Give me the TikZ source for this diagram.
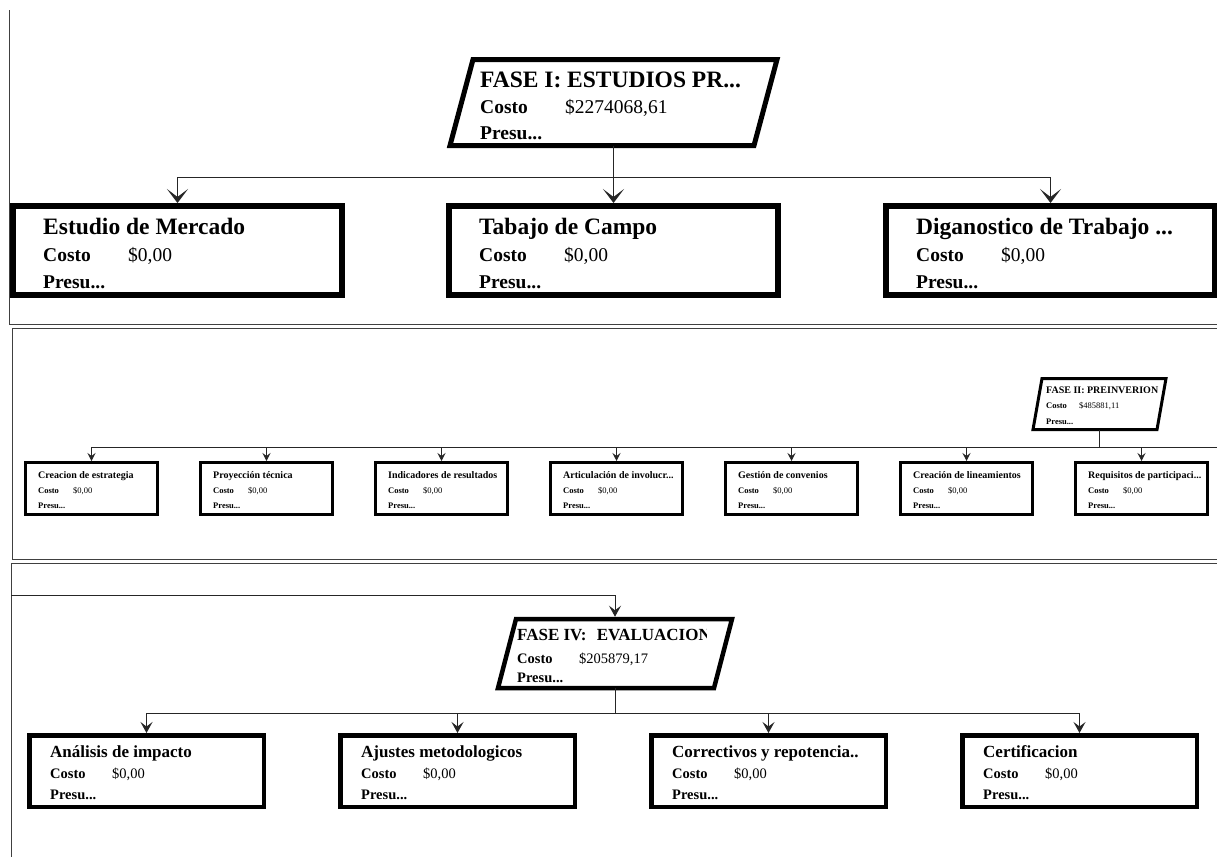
\documentclass[tikz,border=0pt]{standalone}
\usepackage{fontspec}
\setmainfont{Liberation Serif}
\usetikzlibrary{arrows.meta,calc}
\newcommand\ttlT{\fontsize{23.5}{28}\selectfont\bfseries}
\newcommand\cstT{\fontsize{19.5}{23}\selectfont}
\newcommand\ttlM{\fontsize{10}{12}\selectfont\bfseries}
\newcommand\cstM{\fontsize{8.5}{10}\selectfont}
\newcommand\ttlB{\fontsize{17}{20}\selectfont\bfseries}
\newcommand\cstB{\fontsize{14.5}{17}\selectfont}
\newcommand\TopBox[4]{%
  \node[topbox] (#1) at (#2,250.5) {};
  \node[txt,font=\ttlT] (#1t) at ($(#1.north west)+(33,31)$) {#3};
  \node[txt,font=\cstT\bfseries] (#1c) at ($(#1.north west)+(33,58)$) {Costo};
  \node[txt,font=\cstT] (#1v) at ($(#1.north west)+(118,58)$) {#4};
  \node[txt,font=\cstT\bfseries] (#1p) at ($(#1.north west)+(33,85)$) {Presu...};
}
\newcommand\MidBox[4]{%
  \node[midbox] (#1) at (#2,488.5) {};
  \node[txt,font=\ttlM] (#1t) at ($(#1.north west)+(14,17)$) {#3};
  \node[txt,font=\cstM\bfseries] (#1c) at ($(#1.north west)+(14,32)$) {Costo};
  \node[txt,font=\cstM] (#1v) at ($(#1.north west)+(49,32)$) {#4};
  \node[txt,font=\cstM\bfseries] (#1p) at ($(#1.north west)+(14,47)$) {Presu...};
}
\newcommand\BotBox[4]{%
  \node[botbox] (#1) at (#2,771) {};
  \node[txt,font=\ttlB] (#1t) at ($(#1.north west)+(23,24)$) {#3};
  \node[txt,font=\cstB\bfseries] (#1c) at ($(#1.north west)+(23,45)$) {Costo};
  \node[txt,font=\cstB] (#1v) at ($(#1.north west)+(85,45)$) {#4};
  \node[txt,font=\cstB\bfseries] (#1p) at ($(#1.north west)+(23,66)$) {Presu...};
}
\begin{document}
\begin{tikzpicture}[x=1pt,y=-1pt,
  frame/.style={draw=black!75, line width=1pt},
  conn/.style={draw=black!85, line width=1pt},
  topbox/.style={draw, line width=6pt, minimum width=329pt, minimum height=89pt, inner sep=0pt},
  midbox/.style={draw, line width=3pt, minimum width=132pt, minimum height=52pt, inner sep=0pt},
  botbox/.style={draw, line width=4.5pt, minimum width=234.5pt, minimum height=71.5pt, inner sep=0pt},
  anchorbox/.style={inner sep=0pt, outer sep=0pt},
  txt/.style={anchor=base west, inner sep=0pt},
  arrT/.style={conn, -{Stealth[length=14pt,width=21pt,inset=8pt]}},
  arrM/.style={conn, -{Stealth[length=8pt,width=8pt,inset=3pt]}},
  arrB/.style={conn, -{Stealth[length=11pt,width=12pt,inset=4.5pt]}},
]
\useasboundingbox[fill=white] (0,0) rectangle (1217,857);

% ---------- panel frames ----------
\draw[frame] (9,10) -- (9,324.5) -- (1217,324.5);
\draw[frame] (1217,328) -- (12,328) -- (12,559) -- (1217,559);
\draw[frame] (1217,563) -- (11,563) -- (11,857);

% ---------- panel 1 ----------
\node[anchorbox, minimum width=304pt, minimum height=86pt] (f1) at (613.5,102.5) {};
\draw[line width=5pt] ([xshift=11.5pt]f1.north west) -- ([xshift=11.5pt]f1.north east)
  -- ([xshift=-11.5pt]f1.south east) -- ([xshift=-11.5pt]f1.south west) -- cycle;
\node[txt,font=\ttlT] (f1t) at (480,87) {FASE I: ESTUDIOS PR...};
\node[txt,font=\cstT\bfseries] (f1c) at (480,113) {Costo};
\node[txt,font=\cstT] (f1v) at (565,113) {\$2274068,61};
\node[txt,font=\cstT\bfseries] (f1p) at (480,139) {Presu...};

\TopBox{b1}{177.5}{Estudio de Mercado}{\$0,00}
\TopBox{b2}{613.5}{Tabajo de Campo}{\$0,00}
\TopBox{b3}{1050.5}{Diganostico de Trabajo ...}{\$0,00}

\coordinate (j1) at (613.5,177.5);
\draw[arrT] (f1.south) -- (j1) -| (b1.north);
\draw[arrT] (f1.south) -- (b2.north);
\draw[arrT] (f1.south) -- (j1) -| (b3.north);

% ---------- panel 2 ----------
\node[anchorbox, minimum width=124pt, minimum height=51pt] (f2) at (1099.5,404) {};
\draw[line width=3pt] ([xshift=4.5pt]f2.north west) -- ([xshift=4.5pt]f2.north east)
  -- ([xshift=-4.5pt]f2.south east) -- ([xshift=-4.5pt]f2.south west) -- cycle;
\node[txt,font=\ttlM] (f2t) at (1046,393) {FASE II: PREINVERION};
\node[txt,font=\cstM\bfseries] (f2c) at (1046,408) {Costo};
\node[txt,font=\cstM] (f2v) at (1079,408) {\$485881,11};
\node[txt,font=\cstM\bfseries] (f2p) at (1046,424) {Presu...};

\MidBox{m1}{91.5}{Creacion de estrategia}{\$0,00}
\MidBox{m2}{266.5}{Proyección técnica}{\$0,00}
\MidBox{m3}{441.5}{Indicadores de resultados}{\$0,00}
\MidBox{m4}{616.5}{Articulación de involucr...}{\$0,00}
\MidBox{m5}{791.5}{Gestión de convenios}{\$0,00}
\MidBox{m6}{966.5}{Creación de lineamientos}{\$0,00}
\MidBox{m7}{1141.5}{Requisitos de participaci...}{\$0,00}

\coordinate (h2) at (1217,447);
\draw[conn] (f2.south) -- (f2.south |- h2);
\draw[conn] (m1.north |- h2) -- (h2);
\foreach \i in {1,...,7} {\draw[arrM] (m\i.north |- h2) -- (m\i.north);}

% ---------- panel 3 ----------
\node[anchorbox, minimum width=216pt, minimum height=69pt] (f4) at (615,653.5) {};
\begin{scope}
  \clip (500,615) rectangle (706,645);
  \node[txt,font=\ttlB] (f4t) at (517,640) {FASE IV:\hspace{0.6em}EVALUACION};
\end{scope}
\node[txt,font=\cstB\bfseries] (f4c) at (517,663) {Costo};
\node[txt,font=\cstB] (f4v) at (579,663) {\$205879,17};
\node[txt,font=\cstB\bfseries] (f4p) at (517,682) {Presu...};
\draw[line width=4.5pt] ([xshift=9pt]f4.north west) -- ([xshift=9pt]f4.north east)
  -- ([xshift=-9pt]f4.south east) -- ([xshift=-9pt]f4.south west) -- cycle;

\BotBox{c1}{146.5}{Análisis de impacto}{\$0,00}
\BotBox{c2}{457.5}{Ajustes metodologicos}{\$0,00}
\BotBox{c3}{768.5}{Correctivos y repotencia..}{\$0,00}
\BotBox{c4}{1079.5}{Certificacion}{\$0,00}

\coordinate (in4) at (11,595);
\draw[arrB] (in4) -| ([yshift=2.25pt]f4.north);
\coordinate (j4) at (615,713);
\draw[arrB] (f4.south) -- (j4) -| (c1.north);
\draw[arrB] (f4.south) -- (j4) -| (c2.north);
\draw[arrB] (f4.south) -- (j4) -| (c3.north);
\draw[arrB] (f4.south) -- (j4) -| (c4.north);
\end{tikzpicture}
\end{document}
